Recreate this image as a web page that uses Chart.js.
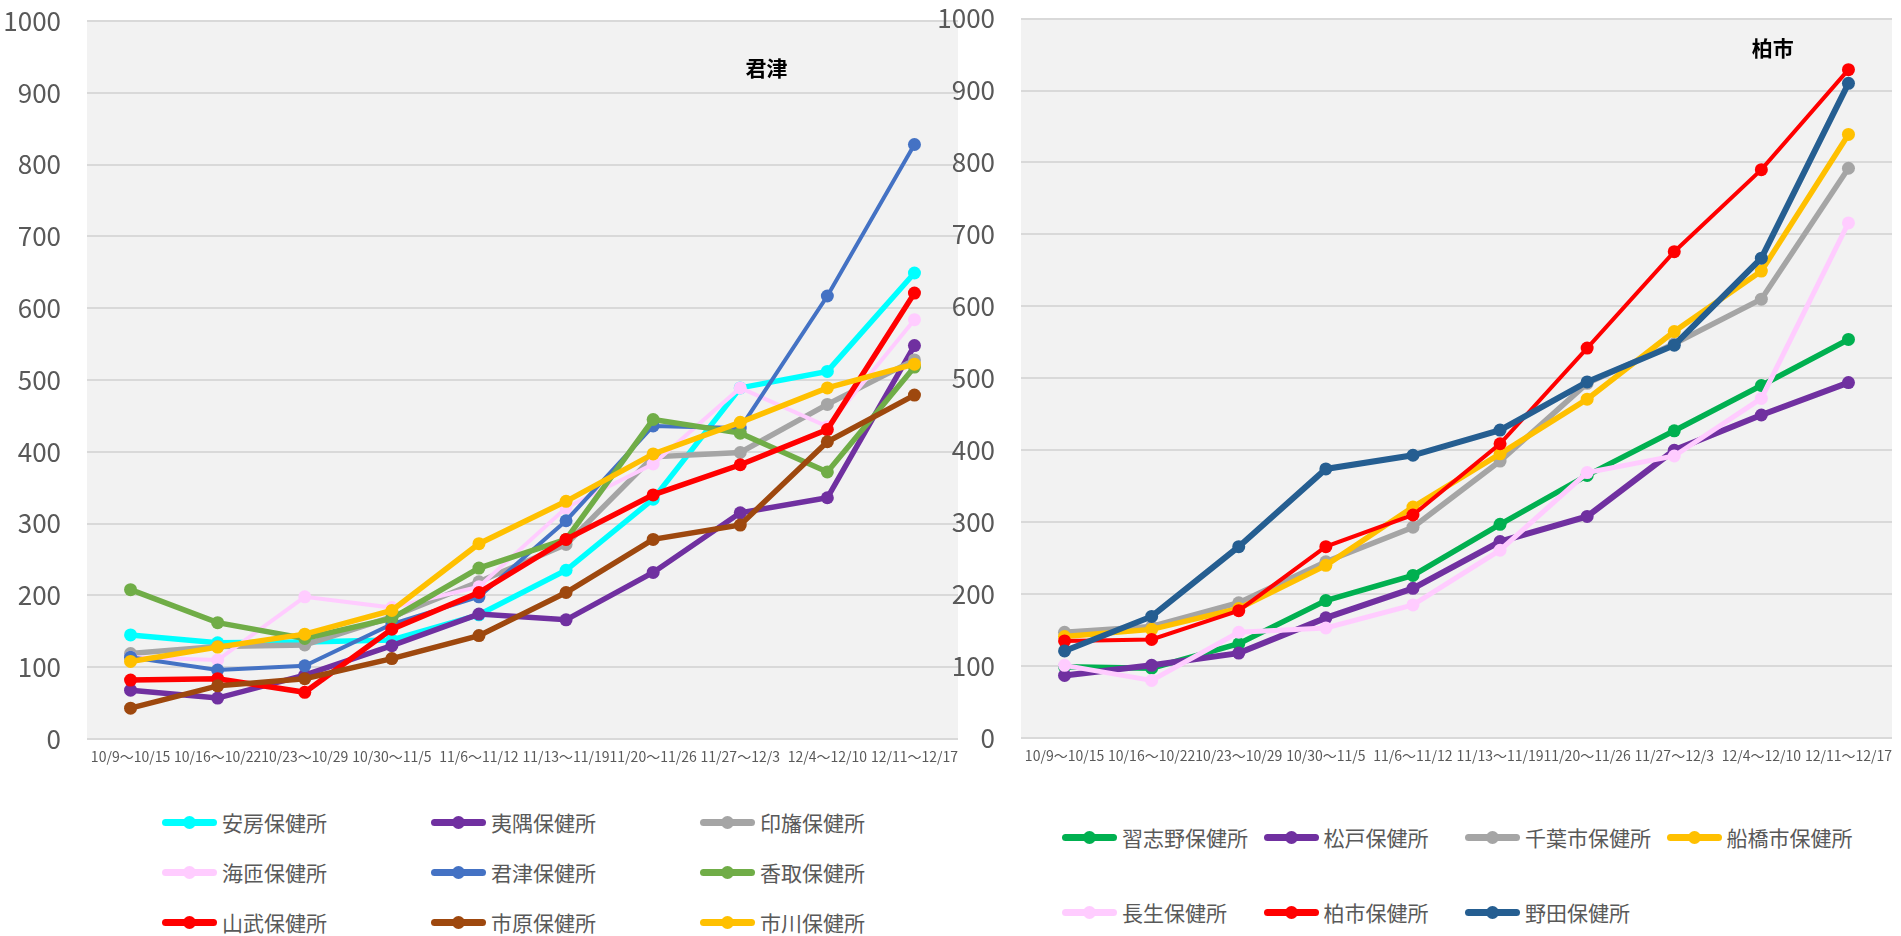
<!DOCTYPE html>
<html>
<head>
<meta charset="UTF-8">
<style>
  body { margin: 0; background: #fff; font-family: "Noto Sans CJK JP", sans-serif; }
  #wrap { position: relative; width: 1901px; height: 936px; overflow: hidden; }
  .box { position: absolute; top: 0; height: 785px; }
  #leftBox { left: 0; width: 960px; }
  #rightBox { left: 930px; width: 971px; }
  .legend { position: absolute; display: grid; color: #595959; font-size: 21px; }
  #leftLegend { left: 162px; top: 808px; grid-template-columns: repeat(3, 269px); row-gap: 22px; }
  #rightLegend { left: 1062px; top: 823px; grid-template-columns: repeat(4, 201.5px); row-gap: 47px; }
  .item { display: flex; align-items: center; height: 28px; white-space: nowrap; }
  .mark { position: relative; width: 55px; height: 7px; border-radius: 4px; margin-right: 5px; flex: none; }
  .mark::after { content: ""; position: absolute; left: 21px; top: -3px; width: 13px; height: 13px; border-radius: 50%; background: inherit; }
</style>
</head>
<body>
<div id="wrap">
  <div class="box" id="leftBox"><canvas id="leftChart"></canvas></div>
  <div class="box" id="rightBox"><canvas id="rightChart"></canvas></div>
  <div class="legend" id="leftLegend"></div>
  <div class="legend" id="rightLegend"></div>
</div>

<script src="https://cdn.jsdelivr.net/npm/chart.js"></script>

<script>
    const weeks = ['10/9～10/15', '10/16～10/22', '10/23～10/29', '10/30～11/5', '11/6～11/12',
                   '11/13～11/19', '11/20～11/26', '11/27～12/3', '12/4～12/10', '12/11～12/17'];
    const yTicks = [0, 100, 200, 300, 400, 500, 600, 700, 800, 900, 1000];

    // 君津 グループ
    const leftTitle = '君津';
    const leftNames = ['安房保健所', '夷隅保健所', '印旛保健所', '海匝保健所', '君津保健所',
                       '香取保健所', '山武保健所', '市原保健所', '市川保健所'];
    const awa      = [145, 134, 135, 138, 173, 235, 334, 489, 512, 649];
    const isumi    = [68, 57, 89, 130, 174, 166, 232, 315, 336, 548];
    const inba     = [119, 129, 131, 170, 219, 271, 393, 399, 466, 528];
    const kaiso    = [114, 110, 198, 183, 212, 322, 383, 489, 435, 584];
    const kimitsu  = [114, 96, 102, 160, 198, 304, 436, 433, 617, 828];
    const katori   = [208, 162, 140, 168, 238, 278, 445, 426, 372, 518];
    const sanbu    = [82, 84, 65, 153, 204, 278, 340, 382, 431, 621];
    const ichihara = [43, 74, 84, 112, 144, 204, 278, 298, 414, 479];
    const ichikawa = [108, 128, 146, 179, 272, 331, 397, 441, 489, 522];

    // 柏市 グループ
    const rightTitle = '柏市';
    const rightNames = ['習志野保健所', '松戸保健所', '千葉市保健所', '船橋市保健所',
                        '長生保健所', '柏市保健所', '野田保健所'];
    const narashino = [99, 97, 131, 191, 226, 297, 365, 427, 490, 554];
    const matsudo   = [87, 101, 118, 167, 208, 273, 308, 400, 449, 494];
    const chiba     = [147, 155, 188, 245, 293, 385, 493, 548, 610, 792];
    const funabashi = [141, 151, 180, 240, 321, 395, 471, 565, 649, 839];
    const chosei    = [101, 80, 147, 153, 185, 261, 369, 392, 472, 716];
    const kashiwa   = [135, 137, 177, 266, 310, 409, 542, 676, 790, 929];
    const noda      = [121, 169, 266, 374, 393, 428, 495, 546, 667, 910];

    const leftColors  = ['#00ffff', '#7030a0', '#a5a5a5', '#ffccff', '#4472c4', '#70ad47', '#ff0000', '#9e480e', '#ffc000'];
    const leftWidths  = [5.5, 5.5, 5.5, 4, 4, 5.5, 5.5, 5.5, 5.5];
    const rightColors = ['#00b050', '#7030a0', '#a5a5a5', '#ffc000', '#ffccff', '#ff0000', '#255e91'];
    const rightWidths = [5.5, 6, 5.5, 5.5, 5, 4, 6];

    // 灰色のプロット背景とグラフ内タイトル
    const plotBg = {
        id: 'plotBg',
        beforeDraw(chart) {
            const {ctx, chartArea: a} = chart;
            ctx.save();
            ctx.fillStyle = '#f2f2f2';
            ctx.fillRect(a.left, a.top, a.right - a.left, a.bottom - a.top);
            ctx.restore();
        },
        afterDraw(chart, args, opts) {
            const {ctx, chartArea: a} = chart;
            ctx.save();
            ctx.font = 'bold 21px "Noto Sans CJK JP"';
            ctx.fillStyle = '#000';
            ctx.textAlign = 'center';
            ctx.textBaseline = 'middle';
            ctx.fillText(opts.text, a.left + (a.right - a.left) * opts.fx, a.top + opts.dy);
            ctx.restore();
        }
    };

    function makeSets(names, series, colors, widths) {
        return names.map((name, i) => ({
            label: name,
            data: series[i],
            borderColor: colors[i],
            backgroundColor: colors[i],
            pointBackgroundColor: colors[i],
            pointBorderColor: colors[i],
            borderWidth: widths[i],
            pointRadius: 6.5,
            pointBorderWidth: 0,
            tension: 0,
            order: names.length - i
        }));
    }

    function chart(id, names, series, colors, widths, title, fx, dy, padding, yWidth) {
        const ctx = document.getElementById(id);
        return new Chart(ctx, {
            type: 'line',
            data: { labels: weeks, datasets: makeSets(names, series, colors, widths) },
            options: {
                responsive: true,
                maintainAspectRatio: false,
                animation: false,
                layout: { padding: padding, autoPadding: false },
                plugins: {
                    legend: { display: false },
                    tooltip: { enabled: false },
                    plotBg: { text: title, fx: fx, dy: dy }
                },
                scales: {
                    x: {
                        offset: true,
                        grid: { color: 'transparent', drawOnChartArea: false, tickColor: 'transparent', tickLength: 9 },
                        border: { display: false },
                        afterFit: s => { s.height = 32; },
                        ticks: {
                            color: '#595959',
                            font: { family: '"Noto Sans CJK JP"', size: 14 },
                            maxRotation: 0,
                            minRotation: 0,
                            autoSkip: false,
                            padding: 0
                        }
                    },
                    y: {
                        min: yTicks[0],
                        max: yTicks[yTicks.length - 1],
                        afterBuildTicks: axis => { axis.ticks = yTicks.map(v => ({ value: v })); },
                        afterFit: s => { s.width = yWidth; },
                        grid: { color: '#d9d9d9', lineWidth: 2, tickColor: 'transparent', tickLength: 23 },
                        border: { display: false },
                        ticks: {
                            color: '#595959',
                            font: { family: '"Noto Sans CJK JP"', size: 26 },
                            padding: 3,
                            callback: v => String(v)
                        }
                    }
                }
            },
            plugins: [plotBg]
        });
    }

    function legend(el, c) {
        const box = document.getElementById(el);
        c.data.datasets.forEach(ds => {
            const item = document.createElement('div');
            item.className = 'item';
            const mark = document.createElement('span');
            mark.className = 'mark';
            mark.style.background = ds.borderColor;
            item.appendChild(mark);
            item.appendChild(document.createTextNode(ds.label));
            box.appendChild(item);
        });
    }

    const lc = chart('leftChart', leftNames,
        [awa, isumi, inba, kaiso, kimitsu, katori, sanbu, ichihara, ichikawa],
        leftColors, leftWidths, leftTitle, 0.78, 47, { left: 0, right: 2, top: 21, bottom: 14 }, 87);
    const rc = chart('rightChart', rightNames,
        [narashino, matsudo, chiba, funabashi, chosei, kashiwa, noda],
        rightColors, rightWidths, rightTitle, 0.863, 29, { left: 0, right: 9, top: 18, bottom: 15 }, 91);

    legend('leftLegend', lc);
    legend('rightLegend', rc);
</script>
</body>
</html>
